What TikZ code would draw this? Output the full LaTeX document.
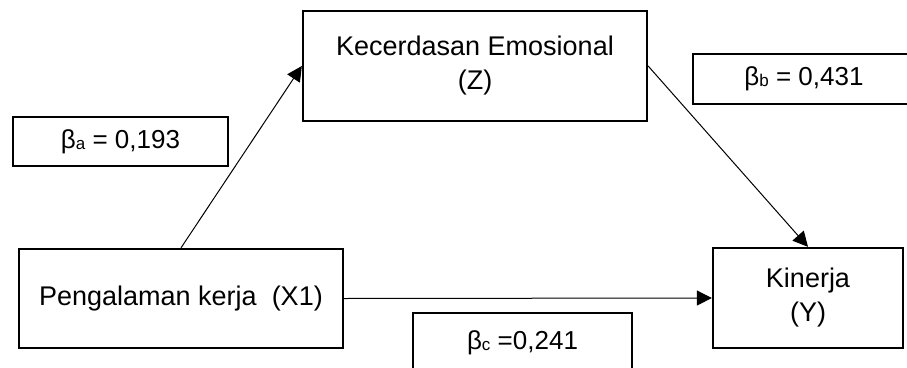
\documentclass[tikz,border=0pt]{standalone}
\usepackage{fontspec}
\setmainfont{Liberation Sans}
\usetikzlibrary{arrows.meta}

\newcommand{\subl}[1]{{\fontsize{17}{17}\selectfont\raisebox{-1pt}{#1}}}

\tikzset{
  varbox/.style={draw, line width=2.3pt, rectangle, align=center,
    inner sep=0pt, font=\fontsize{27}{34}\selectfont},
  coefbox/.style={draw, line width=2.3pt, rectangle, align=center,
    inner sep=0pt, font=\fontsize{26}{30}\selectfont},
  path arrow/.style={line width=1pt, -{Triangle[length=15pt,width=15pt]}}
}

\begin{document}
\begin{tikzpicture}[x=1pt, y=-1pt]
  \useasboundingbox (0,0) rectangle (907,367);
  \clip (0,0) rectangle (907,367);

  % variables
  \node[varbox, minimum width=344pt, minimum height=110pt] (Z) at (475,66)
    {Kecerdasan Emosional\\(Z)};
  \node[varbox, minimum width=324pt, minimum height=99pt] (X1) at (181,298.5)
    {Pengalaman kerja~~(X1)};
  \node[varbox, minimum width=190pt, minimum height=100pt] (Y) at (808,298)
    {Kinerja\\(Y)};

  % path coefficients
  \node[coefbox, minimum width=215pt, minimum height=49pt] (ba) at (120.5,141.5)
    {β\subl{a} = 0,193};
  \node[coefbox, minimum width=222pt, minimum height=50pt] (bb) at (804,79)
    {β\subl{b} = 0,431};
  \node[coefbox, minimum width=219pt, minimum height=60pt] (bc) at (522.5,343)
    {β\subl{c} =0,241};

  % paths
  \draw[path arrow] (X1.north) -- (Z.west);
  \draw[path arrow] (Z.east) -- (Y.north);
  \draw[path arrow] (X1.east) -- (Y.west);
\end{tikzpicture}
\end{document}
